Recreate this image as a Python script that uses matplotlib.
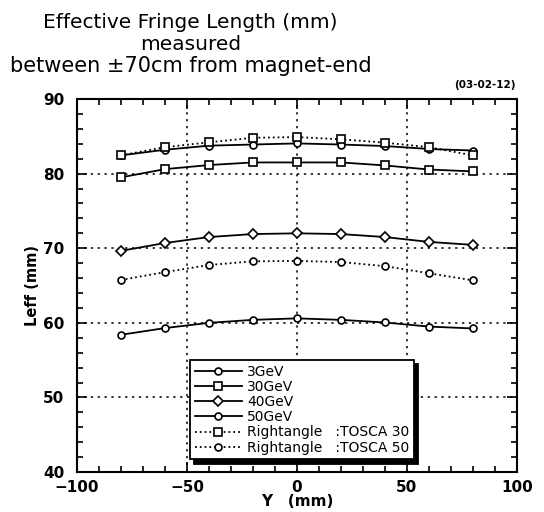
import numpy as np
import matplotlib
matplotlib.use("Agg")
from matplotlib import pyplot as plt
from matplotlib.ticker import MultipleLocator

# posicoes Y (mm) e Leff (mm)
y_pos = [-80, -60, -40, -20, 0, 20, 40, 60, 80]
leff_3gev = [58.4, 59.3, 60.0, 60.4, 60.6, 60.4, 60.05, 59.5, 59.25]
leff_30gev = [79.5, 80.6, 81.15, 81.5, 81.5, 81.5, 81.1, 80.55, 80.3]
leff_40gev = [69.65, 70.7, 71.5, 71.9, 72.0, 71.9, 71.5, 70.85, 70.45]
leff_50gev = [82.45, 83.2, 83.75, 83.9, 84.05, 83.9, 83.7, 83.3, 83.1]
leff_tosca30 = [82.45, 83.55, 84.2, 84.8, 84.9, 84.6, 84.15, 83.55, 82.45]
leff_tosca50 = [65.75, 66.8, 67.75, 68.25, 68.3, 68.15, 67.6, 66.65, 65.7]

labels = ["3GeV", "30GeV", "40GeV", "50GeV",
          "Rightangle   :TOSCA 30", "Rightangle   :TOSCA 50"]

plt.rcParams['font.family'] = ['DejaVu Sans']

fig = plt.figure(figsize=(5.44, 5.12), dpi=100)
ax = fig.add_axes([0.1415, 0.078, 0.8085, 0.7286])

kw = dict(color='black', markerfacecolor='white', markeredgecolor='black',
          markeredgewidth=1.2, linewidth=1.3)
ax.plot(y_pos, leff_3gev, '-o', markersize=5, label=labels[0], **kw)
ax.plot(y_pos, leff_30gev, '-s', markersize=5.5, label=labels[1], **kw)
ax.plot(y_pos, leff_40gev, '-D', markersize=5, label=labels[2], **kw)
ax.plot(y_pos, leff_50gev, '-o', markersize=5, label=labels[3], **kw)
ax.plot(y_pos, leff_tosca30, ':s', markersize=5.5, label=labels[4], **kw)
ax.plot(y_pos, leff_tosca50, ':o', markersize=5, label=labels[5], **kw)

ax.set_xlim(-100, 100)
ax.set_ylim(40, 90)
ax.xaxis.set_major_locator(MultipleLocator(50))
ax.xaxis.set_minor_locator(MultipleLocator(10))
ax.yaxis.set_major_locator(MultipleLocator(10))
ax.yaxis.set_minor_locator(MultipleLocator(2))
ax.tick_params(which='both', direction='in', top=True, right=True, width=1.2)
ax.tick_params(which='major', length=7, labelsize=11)
ax.tick_params(axis='x', which='major', pad=6)
ax.tick_params(axis='y', which='major', pad=9)
ax.tick_params(which='minor', length=4)
for t in ax.get_xticklabels() + ax.get_yticklabels():
    t.set_fontweight('bold')
for s in ax.spines.values():
    s.set_linewidth(1.5)
ax.grid(True, which='major', linestyle=(0, (1.5, 3)), color='black', linewidth=1.1)

ax.set_xlabel("Y   (mm)", fontsize=11, fontweight='bold', labelpad=-1)
ax.set_ylabel("Leff (mm)", fontsize=10.5, fontweight='bold', labelpad=2)

leg = ax.legend(loc='upper left', bbox_to_anchor=(0.257, 0.30), fontsize=10,
                frameon=True, fancybox=False, edgecolor='black',
                shadow={'color': 'black', 'alpha': 1.0, 'ox': 3, 'oy': -3},
                handlelength=3.4, handletextpad=0.35, labelspacing=0.08,
                borderpad=0.35, borderaxespad=0)
leg.get_frame().set_linewidth(1.3)

fig.text(0.35, 0.945, "Effective Fringe Length (mm)", ha='center', va='baseline', fontsize=14.5)
fig.text(0.35, 0.902, "measured", ha='center', va='baseline', fontsize=14.5)
fig.text(0.35, 0.859, "between \u00b170cm from magnet-end", ha='center', va='baseline', fontsize=15)
fig.text(0.947, 0.828, "(03-02-12)", ha='right', fontsize=7.5, fontweight='bold')

plt.savefig("out.png", dpi=100)
